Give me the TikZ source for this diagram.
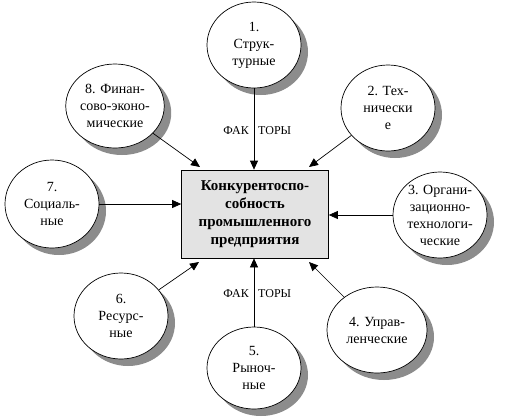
\documentclass[tikz,border=0pt]{standalone}
\usepackage{fontspec}
\setmainfont{Liberation Serif}
\usetikzlibrary{shapes.geometric,shadows,arrows.meta}
\begin{document}
\begin{tikzpicture}[x=1pt, y=-1pt, >={Triangle[length=9pt,width=8pt]},
	factor/.style={ellipse, draw, line width=0.7pt, fill=white, inner sep=0pt,
		minimum width=94pt, minimum height=86pt, align=center,
		font=\fontsize{14}{17}\selectfont,
		drop shadow={shadow xshift=7pt, shadow yshift=-7pt, fill=gray!90, opacity=1}},
	link/.style={->, line width=0.7pt},
	lbl/.style={font=\fontsize{12}{14}\selectfont, inner sep=0pt}]
	% Рамка рисунка
	\useasboundingbox (0,0) rectangle (506,416);
	
	% Центральный блок
	\node[draw, line width=0.7pt, fill=gray!22, minimum width=147pt, minimum height=88pt,
		align=center, font=\fontsize{15}{18}\selectfont\bfseries] (box) at (255,214)
		{Конкурентоспо-\\собность\\промышленного\\предприятия};
	
	% Факторы
	\node[factor] (f1) at (254,45) {1.\\Струк-\\турные};
	\node[factor] (f2) at (388,108) {2. Тех-\\нически\\е};
	\node[factor] (f3) at (440,215) {3. Органи-\\зационно-\\технологи-\\ческие};
	\node[factor, minimum width=100pt] (f4) at (377,330) {4. Управ-\\ленческие};
	\node[factor, minimum height=82pt] (f5) at (254,368) {5.\\Рыноч-\\ные};
	\node[factor] (f6) at (121,316) {6.\\Ресурс-\\ные};
	\node[factor, minimum height=88pt] (f7) at (52,204) {7.\\Социаль-\\ные};
	\node[factor, minimum width=92pt, minimum height=84pt] (f8) at (115,106) {8. Финан-\\сово-эконо-\\мические};
	
	% Стрелки к блоку
	\coordinate (tl) at (200,167);
	\coordinate (tr) at (309,167);
	\coordinate (bl) at (199,262);
	\coordinate (br) at (309,262);
	\draw[link] (f1) -- (f1 |- box.north);
	\draw[link] (f2) -- (tr);
	\draw[link] (f3) -- (f3 -| box.east);
	\draw[link] (f4) -- (br);
	\draw[link] (f5) -- (f5 |- box.south);
	\draw[link] (f6) -- (bl);
	\draw[link] (f7) -- (f7 -| box.west);
	\draw[link] (f8) -- (tl);
	
	% Подписи
	\node[lbl, anchor=east] (fa1) at (249,131) {ФАК};
	\node[lbl, anchor=west] (to1) at (258,131) {ТОРЫ};
	\node[lbl, anchor=east] (fa2) at (249,294) {ФАК};
	\node[lbl, anchor=west] (to2) at (258,294) {ТОРЫ};
\end{tikzpicture}
\end{document}
